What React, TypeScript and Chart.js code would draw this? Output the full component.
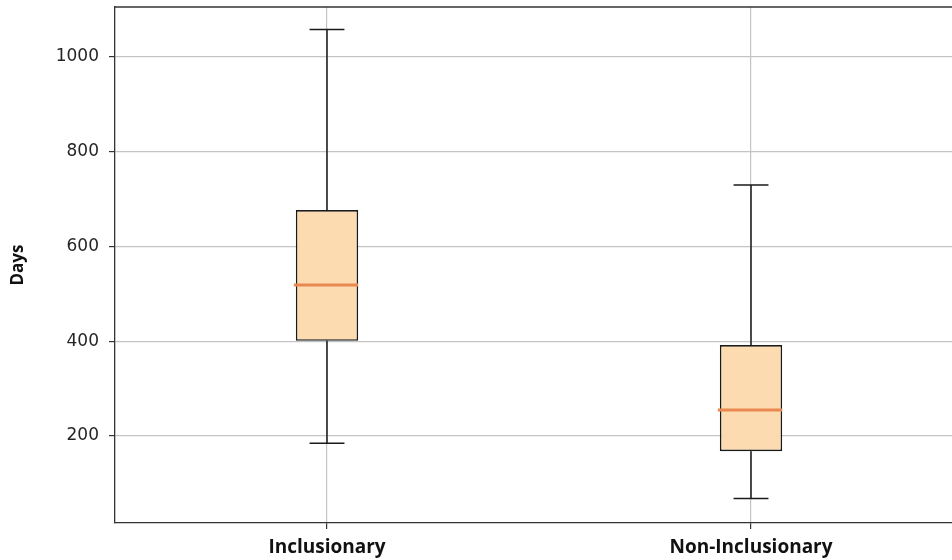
import React, { useEffect, useRef } from "react";
import { Chart, registerables } from "chart.js";

Chart.register(...registerables);

const categories = ["Inclusionary", "Non-Inclusionary"];
const positions = [1, 2];
const whiskerLow = [185, 68];
const q1 = [401, 168];
const median = [519, 255];
const q3 = [677, 392];
const whiskerHigh = [1058, 730];
const yTicks = [200, 400, 600, 800, 1000];

const boxFill = "#FCDBB1";
const edgeColor = "#1a1a1a";
const medianColor = "#E98850";
const gridColor = "#c4c4c4";

const boxPlugin = {
  id: "boxWhiskers",
  afterDatasetsDraw(chart: any) {
    const { ctx, scales } = chart;
    const xs = scales.x;
    const ys = scales.y;
    const meta = chart.getDatasetMeta(0);
    ctx.save();
    positions.forEach((p, i) => {
      const cx = xs.getPixelForValue(p);
      const w = meta.data[i] ? meta.data[i].width : 60;
      const capHalf = w * 0.28;
      ctx.strokeStyle = edgeColor;
      ctx.lineWidth = 1.5;
      ctx.beginPath();
      ctx.moveTo(cx, ys.getPixelForValue(q3[i]));
      ctx.lineTo(cx, ys.getPixelForValue(whiskerHigh[i]));
      ctx.moveTo(cx, ys.getPixelForValue(q1[i]));
      ctx.lineTo(cx, ys.getPixelForValue(whiskerLow[i]));
      ctx.moveTo(cx - capHalf, ys.getPixelForValue(whiskerHigh[i]));
      ctx.lineTo(cx + capHalf, ys.getPixelForValue(whiskerHigh[i]));
      ctx.moveTo(cx - capHalf, ys.getPixelForValue(whiskerLow[i]));
      ctx.lineTo(cx + capHalf, ys.getPixelForValue(whiskerLow[i]));
      ctx.stroke();
      ctx.strokeStyle = medianColor;
      ctx.lineWidth = 3;
      ctx.beginPath();
      const my = ys.getPixelForValue(median[i]);
      ctx.moveTo(cx - w / 2 - 2, my);
      ctx.lineTo(cx + w / 2, my);
      ctx.stroke();
    });
    const a = chart.chartArea;
    ctx.strokeStyle = "#333";
    ctx.lineWidth = 1.3;
    ctx.beginPath();
    ctx.moveTo(a.left, a.top);
    ctx.lineTo(a.right, a.top);
    ctx.stroke();
    ctx.restore();
  },
};

export default function App() {
  const ref = useRef<HTMLCanvasElement>(null);
  useEffect(() => {
    if (!ref.current) return;
    const chart = new Chart(ref.current, {
      type: "bar",
      data: {
        datasets: [
          {
            data: positions.map((p, i) => ({ x: p, y: [q1[i], q3[i]] })) as any,
            backgroundColor: boxFill,
            borderColor: edgeColor,
            borderWidth: 1.6,
            borderSkipped: false,
            barPercentage: 0.147,
            categoryPercentage: 1,
          },
        ],
      },
      options: {
        responsive: false,
        maintainAspectRatio: false,
        animation: false,
        layout: { padding: { top: 7, right: 0, left: 0, bottom: 0 } },
        plugins: { legend: { display: false }, tooltip: { enabled: false } },
        scales: {
          x: {
            type: "linear",
            offset: false,
            min: 0.5,
            max: 2.474,
            afterBuildTicks: (s: any) => {
              s.ticks = positions.map((v) => ({ value: v }));
            },
            afterFit: (s: any) => {
              s.height = 37;
              s.paddingLeft = 0;
              s.paddingRight = 0;
            },
            ticks: {
              autoSkip: false,
              maxRotation: 0,
              padding: 7,
              color: "#111",
              font: { family: "'Open Sans'", size: 19, weight: "bold" },
              callback: (v: any) => categories[positions.indexOf(v)] ?? "",
            },
            grid: {
              offset: false,
              color: gridColor,
              lineWidth: 1.2,
              tickLength: 6,
              tickColor: "#333",
              tickWidth: 1.2,
            },
            border: { color: "#333", width: 1.3 },
          },
          y: {
            min: 16.5,
            max: 1105.5,
            afterBuildTicks: (s: any) => {
              s.ticks = yTicks.map((v) => ({ value: v }));
            },
            afterFit: (s: any) => {
              s.width = 115;
              s.paddingTop = 0;
              s.paddingBottom = 0;
            },
            ticks: {
              padding: 10,
              color: "#262626",
              font: { family: "'DejaVu Sans'", size: 17 },
              callback: (v: any) => String(v),
            },
            grid: {
              color: gridColor,
              lineWidth: 1.2,
              tickLength: 6,
              tickColor: "#333",
              tickWidth: 1.2,
            },
            border: { color: "#333", width: 1.3 },
            title: {
              display: true,
              text: "Days",
              color: "#111",
              padding: { top: 8, bottom: 0 },
              font: { family: "'Open Sans'", size: 17, weight: "bold" },
            },
          },
        },
      },
      plugins: [boxPlugin],
    });
    return () => chart.destroy();
  }, []);
  return (
    <div style={{ position: "absolute", left: 0, top: 0, width: 952, height: 560, background: "#fff" }}>
      <canvas ref={ref} width={952} height={560} />
    </div>
  );
}
